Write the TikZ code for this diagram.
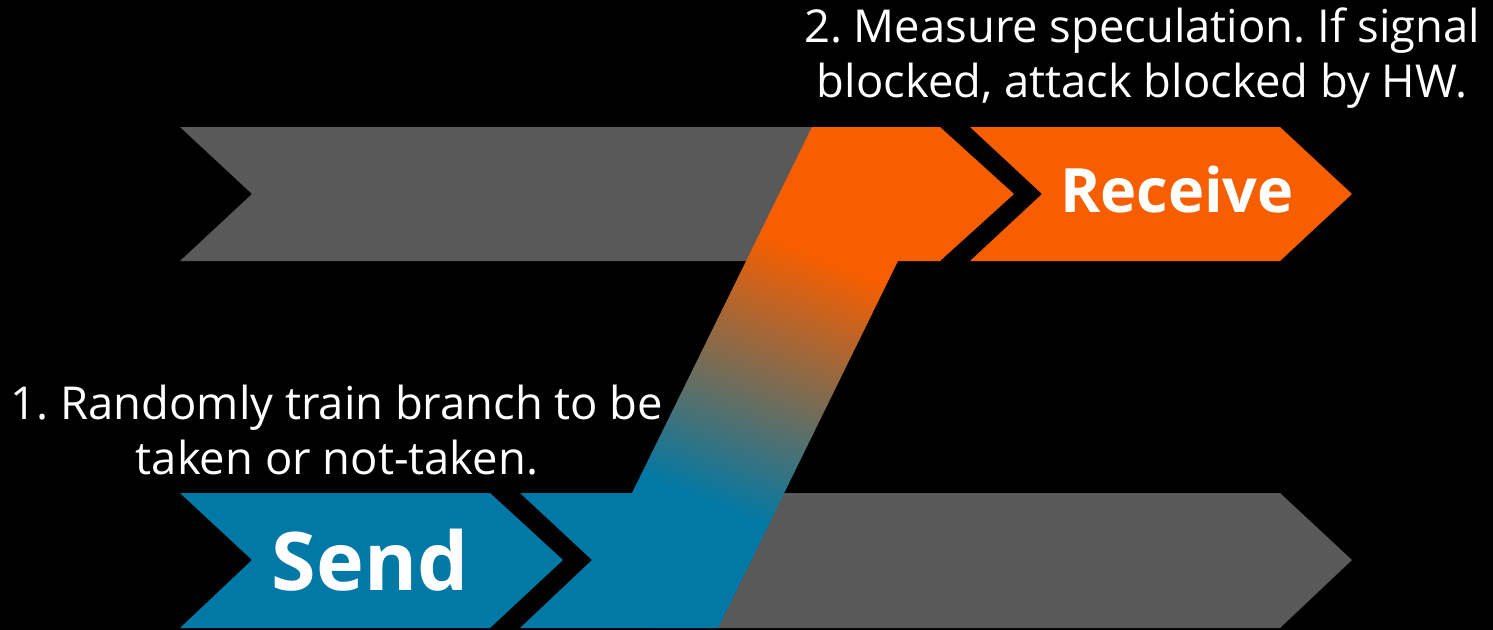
\documentclass[tikz,border=0pt]{standalone}
\usepackage{fontspec}
\setmainfont{Open Sans}
\newfontfamily\rotulofont{Open Sans}
\usepackage{xcolor}
\usepackage{tikz}
\usetikzlibrary{positioning}
\definecolor{azul}{RGB}{0,121,166}
\definecolor{laranja}{RGB}{246,94,0}
\definecolor{cinza}{RGB}{89,89,89}
\pgfdeclareverticalshading{transicao}{100bp}{color(0bp)=(azul); color(36bp)=(azul); color(63bp)=(laranja); color(100bp)=(laranja)}
\frenchspacing

\begin{document}
\begin{tikzpicture}[
    x=0.01cm, y=-0.01cm,
    faixa/.style={fill=cinza},
    envio/.style={fill=azul},
    recebe/.style={fill=laranja},
    desvio/.style={shading=transicao, shading angle=-22},
    rotulo/.style={text=white, inner sep=0pt},
    nota/.style={text=white, font=\fontsize{12.9}{15.6}\selectfont, align=center, inner sep=0pt}
  ]
    \fill[black] (0,0) rectangle (1493,630);
    % faixas cinzas
    \fill[faixa] (180,127) -- (850,127) -- (850,261) -- (180,261) -- (252,194) -- cycle;
    \fill[faixa] (700,493) -- (1280,493) -- (1352,560) -- (1280,628) -- (650,628) -- cycle;
    % envio e recebimento
    \fill[envio] (180,493) -- (490,493) -- (563,560) -- (490,628) -- (180,628) -- (252,560) -- cycle;
    \fill[recebe] (970,127) -- (1280,127) -- (1352,194) -- (1280,261) -- (970,261) -- (1042,194) -- cycle;
    % desvio especulativo
    \shade[desvio] (520,493) -- (632,493) -- (812,127) -- (940,127) -- (1014,194) -- (940,261)
      -- (898,261) -- (718,628) -- (520,628) -- (592,560) -- cycle;
    \node[rotulo, font=\rotulofont\bfseries\fontsize{23}{27}\selectfont] (send) at (370,560) {Send};
    \node[rotulo, font=\rotulofont\bfseries\fontsize{17.4}{20}\selectfont] (receive) at (1177,190) {Receive};
    \node[nota] (passo1) at (337,430) {1. Randomly train branch to be\\taken or not-taken.};
    \node[nota] (passo2) at (1142,58) {2. Measure speculation. If signal\\blocked, attack blocked by HW.};
  \end{tikzpicture}
\end{document}
